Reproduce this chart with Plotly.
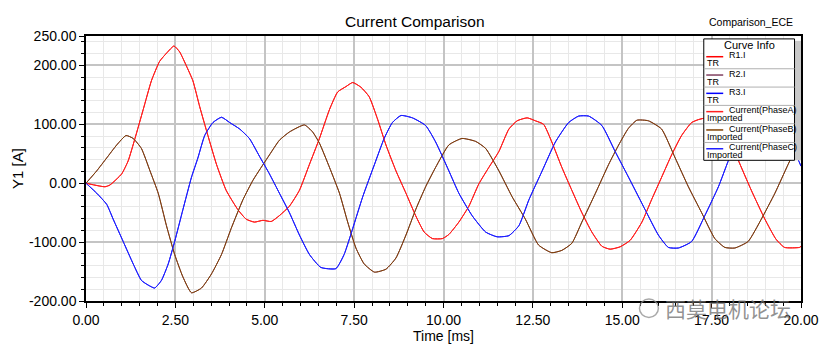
import plotly.graph_objects as go

# ---------------- data ----------------
t_a = [0, 0.53, 0.67, 1.0, 1.18, 1.37, 1.60, 1.83, 2.06, 2.27, 2.46, 2.62, 2.81, 2.99, 3.18, 3.41,
       3.65, 3.92, 4.25, 4.48, 4.71, 4.95, 5.18, 5.41, 5.69, 5.97, 6.25, 6.53, 6.81, 7.04, 7.27,
       7.46, 7.69, 7.92, 8.16, 8.39, 8.67, 8.95, 9.22, 9.46, 9.69, 9.97, 10.15, 10.43, 10.71,
       10.99, 11.27, 11.55, 11.83, 12.06, 12.34, 12.57, 12.80, 13.03, 13.31, 13.59, 13.87, 14.15,
       14.43, 14.66, 14.94, 15.22, 15.55, 15.82, 16.10, 16.38, 16.66, 16.94, 17.13, 17.36, 17.59,
       17.82, 18.05, 18.24, 18.61, 18.99, 19.30, 19.54, 19.96, 20.0]
phase_a = [0, -6, -3, 16, 38, 76, 125, 174, 207, 222, 233, 223, 199, 174, 130, 81,
           32, -12, -45, -61, -66, -63, -65, -55, -39, -12, 32, 76, 125, 155, 164,
           171, 163, 147, 108, 65, 21, -17, -55, -83, -94, -94, -87, -66, -39,
           -1, 27, 54, 92, 106, 111, 106, 100, 70, 27, -12, -50, -83,
           -107, -112, -108, -97, -66, -28, 10, 48, 81, 103, 108, 111, 106,
           100, 70, 40, -12, -61, -95, -109, -109, -107]

t_b = [0, 0.30, 0.58, 0.86, 1.12, 1.32, 1.55, 1.79, 2.02, 2.25, 2.48, 2.71, 2.95, 3.23, 3.51,
       3.79, 4.06, 4.39, 4.67, 4.88, 5.13, 5.41, 5.69, 6.11, 6.34, 6.53, 6.81, 7.09, 7.32, 7.55,
       7.78, 8.07, 8.39, 8.67, 8.95, 9.22, 9.50, 9.78, 10.15, 10.52, 10.90, 11.18, 11.55,
       11.92, 12.29, 12.66, 13.03, 13.31, 13.59, 13.87, 14.25, 14.62, 14.90, 15.17, 15.41, 15.73,
       16.10, 16.48, 16.85, 17.22, 17.59, 17.87, 18.15, 18.52, 18.89, 19.27, 19.64, 20.0]
phase_b = [0, 21, 43, 65, 81, 76, 59, 21, -17, -72, -121, -159, -186, -178, -154,
           -121, -77, -28, 5, 25, 48, 73, 87, 99, 87, 68, 27, -17, -66, -110,
           -137, -151, -146, -127, -88, -45, -6, 27, 65, 76, 71, 59, 21,
           -23, -61, -105, -118, -114, -102, -66, -17, 32, 65, 93, 107, 106,
           92, 43, -6, -50, -94, -109, -110, -99, -61, -17, 32, 78]

t_c = [0, 0.30, 0.58, 0.76, 1.04, 1.32, 1.55, 1.74, 1.92, 2.11, 2.30, 2.48, 2.71, 2.95, 3.13,
       3.32, 3.55, 3.79, 4.02, 4.30, 4.57, 4.85, 5.13, 5.41, 5.69, 5.97, 6.25, 6.57, 6.99, 7.22,
       7.46, 7.74, 8.07, 8.34, 8.57, 8.81, 9.13, 9.50, 9.78, 10.15, 10.43, 10.80, 11.18, 11.50,
       11.83, 12.11, 12.39, 12.76, 13.13, 13.50, 13.78, 14.06, 14.43, 14.80, 15.22, 15.64, 16.01,
       16.29, 16.57, 16.94, 17.31, 17.69, 17.96, 18.20, 18.50, 18.78, 19.06, 19.43, 19.84, 20.0]
phase_c = [0, -17, -36, -61, -99, -137, -165, -173, -178, -165, -137, -99, -45, 10, 43,
           81, 103, 112, 103, 92, 76, 46, 16, -17, -50, -88, -121, -143, -145, -121,
           -77, -23, 32, 76, 103, 115, 111, 98, 70, 21, -17, -55, -83, -91,
           -89, -72, -28, 21, 70, 103, 114, 114, 98, 54, 5, -45, -88,
           -109, -110, -99, -55, -6, 37, 72, 103, 114, 114, 97, 51, 29]

# simulated (TR) and imported series share the same readings
series = [
    ("R1.I", "TR", t_a, phase_a, "#FF0000"),
    ("R2.I", "TR", t_b, phase_b, "#804060"),
    ("R3.I", "TR", t_c, phase_c, "#0000FF"),
    ("Current(PhaseA)", "Imported", t_a, phase_a, "#FF2020"),
    ("Current(PhaseB)", "Imported", t_b, phase_b, "#804000"),
    ("Current(PhaseC)", "Imported", t_c, phase_c, "#2020FF"),
]

x_ticks = [0, 2.5, 5, 7.5, 10, 12.5, 15, 17.5, 20]
x_labels = ["0.00", "2.50", "5.00", "7.50", "10.00", "12.50", "15.00", "17.50", "20.00"]
y_ticks = [-200, -100, 0, 100, 200, 250]
y_labels = ["-200.00", "-100.00", "0.00", "100.00", "200.00", "250.00"]

# ---------------- figure ----------------
W, H = 831, 351
L, R, T, B = 86, 803, 36, 311

fig = go.Figure()
for name, sub, t, v, col in series:
    fig.add_trace(go.Scatter(x=t, y=v, mode="lines", name=name,
                             line=dict(color=col, width=1, shape="spline", smoothing=0.5),
                             showlegend=False, hoverinfo="skip"))

FONT = "Liberation Sans, Arial, sans-serif"
NARROW = "Liberation Sans Narrow, " + FONT

fig.update_layout(
    width=W, height=H,
    margin=dict(l=L, r=W - R, t=T, b=H - B),
    paper_bgcolor="white", plot_bgcolor="white",
    font=dict(family=FONT, size=13, color="black"),
)
fig.update_xaxes(
    range=[0, 20], tickvals=x_ticks, ticktext=x_labels,
    showgrid=True, gridcolor="#C4C4C4", gridwidth=1.5,
    showline=True, linecolor="black", linewidth=1.5, mirror=True,
    ticks="outside", ticklen=5, tickcolor="black",
    tickfont=dict(size=14, family=NARROW),
    minor=dict(tickmode="linear", tick0=0, dtick=0.5, showgrid=True,
               gridcolor="#E8E8E8", gridwidth=1, ticks="outside", ticklen=3, tickcolor="black"),
    zeroline=False,
    title=dict(text="Time [ms]", font=dict(size=14, family=NARROW), standoff=2),
)
fig.update_yaxes(
    range=[-200, 250], tickvals=y_ticks, ticktext=y_labels,
    showgrid=True, gridcolor="#C4C4C4", gridwidth=1.5,
    showline=True, linecolor="black", linewidth=1.5, mirror=True,
    ticks="outside", ticklen=5, tickcolor="black",
    tickfont=dict(size=14),
    minor=dict(tickmode="linear", tick0=0, dtick=20, showgrid=True,
               gridcolor="#E8E8E8", gridwidth=1, ticks="outside", ticklen=3, tickcolor="black"),
    zeroline=False,
    title=dict(text="Y1 [A]", font=dict(size=15), standoff=2),
)


def px(x):
    return (x - L) / (R - L)


def py(y):
    return (B - y) / (B - T)


shapes = []
annos = []

# title texts
annos.append(dict(text="Current Comparison", x=px(416), y=py(21), xref="paper", yref="paper",
                  showarrow=False, font=dict(size=15.5), xanchor="center", yanchor="middle"))
annos.append(dict(text="Comparison_ECE", x=px(753), y=py(21), xref="paper", yref="paper",
                  showarrow=False, font=dict(size=10.5), xanchor="center", yanchor="middle"))

# legend ("Curve Info") box
lx0, lx1, ly0, ly1 = 705.5, 796.5, 39, 165
shapes.append(dict(type="rect", xref="paper", yref="paper", x0=px(797), x1=px(803),
                   y0=py(165), y1=py(41), fillcolor="#C8C8C8", line=dict(width=0), layer="above"))
shapes.append(dict(type="rect", xref="paper", yref="paper", x0=px(lx0), x1=px(lx1),
                   y0=py(ly1), y1=py(ly0), fillcolor="white", line=dict(color="black", width=1),
                   layer="above"))
annos.append(dict(text="Curve Info", x=px(751), y=py(45), xref="paper", yref="paper",
                  showarrow=False, font=dict(size=11), xanchor="center", yanchor="middle"))
row_tops = [51, 70, 89, 108, 127, 146.5]
for i, (name, sub, t, v, col) in enumerate(series):
    top = row_tops[i]
    if i > 0:
        shapes.append(dict(type="line", xref="paper", yref="paper", x0=px(lx0), x1=px(lx1),
                           y0=py(top), y1=py(top), line=dict(color="#B0B0B0", width=1), layer="above"))
    shapes.append(dict(type="line", xref="paper", yref="paper", x0=px(708), x1=px(725),
                       y0=py(top + 6.5), y1=py(top + 6.5), line=dict(color=col, width=1.5),
                       layer="above"))
    annos.append(dict(text=name, x=px(729), y=py(top + 5), xref="paper", yref="paper",
                      showarrow=False, font=dict(size=9), xanchor="left", yanchor="middle"))
    annos.append(dict(text=sub, x=px(707), y=py(top + 13.5), xref="paper", yref="paper",
                      showarrow=False, font=dict(size=9), xanchor="left", yanchor="middle"))

# watermark
shapes.append(dict(type="circle", xref="paper", yref="paper", x0=px(641), x1=px(660),
                   y0=py(328), y1=py(309), line=dict(color="rgba(140,140,140,0.75)", width=1.5),
                   layer="above"))
annos.append(dict(text="西莫电机论坛", x=px(730), y=py(318), xref="paper", yref="paper",
                  showarrow=False, xanchor="center", yanchor="middle",
                  font=dict(size=21, family="Noto Sans CJK SC", color="rgba(110,110,110,0.75)")))

fig.update_layout(shapes=shapes, annotations=annos)
fig.write_html("out.html")
